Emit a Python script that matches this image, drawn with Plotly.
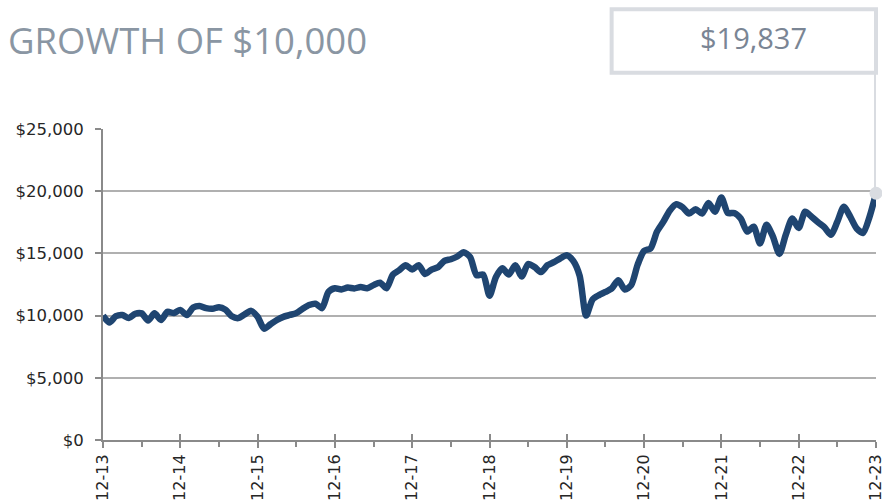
import plotly.graph_objects as go

# ---- data ----
tick_labels = ["12-13", "12-14", "12-15", "12-16", "12-17", "12-18",
               "12-19", "12-20", "12-21", "12-22", "12-23"]
growth_values = [
    10000, 9450, 9950, 10050, 9800, 10150, 10180, 9600, 10180, 9650, 10300, 10200,
    10450, 10050, 10650, 10780, 10600, 10550, 10680, 10480, 9950, 9800, 10100, 10380,
    9900, 8950, 9300, 9650, 9900, 10050, 10200, 10550, 10850, 10950, 10600, 11900,
    12200, 12100, 12250, 12180, 12300, 12200, 12450, 12650, 12200, 13300, 13650, 14050,
    13700, 14050, 13350, 13700, 13880, 14400, 14530, 14750, 15100, 14700, 13250, 13300,
    11600, 13100, 13800, 13300, 14050, 13150, 14150, 13900, 13500, 14050, 14300, 14600,
    14850, 14400, 13200, 10000, 11300, 11650, 11900, 12200, 12850, 12100, 12450, 14100,
    15200, 15400, 16750, 17550, 18450, 18950, 18700, 18200, 18550, 18200, 19050, 18350,
    19500, 18250, 18250, 17800, 16750, 17150, 15800, 17300, 16350, 14950, 16500, 17800,
    17050, 18350, 17950, 17500, 17100, 16500, 17550, 18750, 17950, 17000, 16650, 17950,
    19837,
]
y_ticks = [0, 5000, 10000, 15000, 20000, 25000]
y_tick_labels = ["$0", "$5,000", "$10,000", "$15,000", "$20,000", "$25,000"]
title_text = "GROWTH OF $10,000"
final_label = "$19,837"

months = list(range(len(growth_values)))
major_ticks = list(range(0, len(growth_values), 12))
minor_ticks = [m + 6 for m in major_ticks[:-1]]
x_max = months[-1]
y_max = y_ticks[-1]

LINE = "#1F4571"
CALLOUT = "#D9DCE1"
GRID = "#B0B0B0"
AXIS = "#8A8A8A"
YFONT = dict(family="DejaVu Sans", size=16.5, color="#262626")
XFONT = dict(family="DejaVu Sans", size=16, color="#262626")

fig = go.Figure()
fig.add_trace(go.Scatter(
    x=months, y=growth_values, mode="lines",
    line=dict(color=LINE, width=6.5, shape="spline", smoothing=0.7),
    hoverinfo="skip", showlegend=False,
))
fig.add_trace(go.Scatter(
    x=[months[-1]], y=[growth_values[-1]], mode="markers",
    marker=dict(color=CALLOUT, size=13), cliponaxis=False,
    hoverinfo="skip", showlegend=False,
))
# helper trace for the inside half of the major x ticks
fig.add_trace(go.Scatter(x=[None], y=[None], xaxis="x2", showlegend=False, hoverinfo="skip"))

# callout box + connector
box_bottom = 1.181
box_top = 1.385
fig.add_shape(type="rect", xref="paper", yref="paper",
              x0=0.658, x1=1.0, y0=box_bottom, y1=box_top,
              line=dict(color=CALLOUT, width=4), fillcolor="white", layer="above")
fig.add_shape(type="line", xref="x", yref="paper",
              x0=x_max, x1=x_max, y0=growth_values[-1] / y_max, y1=box_bottom,
              line=dict(color=CALLOUT, width=4), layer="below")
fig.add_annotation(xref="paper", yref="paper", x=0.841, y=1.293,
                   text=final_label, showarrow=False,
                   font=dict(family="Open Sans", size=29, color="#7A8594"),
                   xanchor="center", yanchor="middle")

fig.update_layout(
    width=882, height=504,
    margin=dict(l=103, r=6, t=129, b=64, autoexpand=False),
    paper_bgcolor="white", plot_bgcolor="white",
    title=dict(text=title_text, x=8 / 882, xanchor="left", xref="container",
               y=1 - 41 / 504, yanchor="middle", yref="container",
               font=dict(family="Open Sans", size=36.5, color="#8A96A3")),
    xaxis=dict(
        range=[0, x_max], tickmode="array", tickvals=major_ticks, ticktext=tick_labels,
        tickangle=-90, ticks="outside", ticklen=6, tickwidth=1.5, tickcolor=AXIS,
        showline=True, linecolor=AXIS, linewidth=2, showgrid=False, zeroline=False,
        tickfont=XFONT, ticklabeloverflow="allow", automargin=False,
        minor=dict(tickvals=minor_ticks, ticks="outside", ticklen=5, tickwidth=1.5,
                   tickcolor=AXIS, showgrid=False),
        fixedrange=True,
    ),
    xaxis2=dict(
        range=[0, x_max], overlaying="x", anchor="y", side="bottom",
        tickmode="array", tickvals=major_ticks, ticks="inside", ticklen=6,
        tickwidth=1.5, tickcolor=AXIS, showticklabels=False, showgrid=False,
        showline=False, zeroline=False, automargin=False,
    ),
    yaxis=dict(
        range=[0, y_max], tickmode="array", tickvals=y_ticks, ticktext=y_tick_labels,
        ticks="outside", ticklen=6, tickwidth=1.5,
        tickcolor=AXIS, showline=True, linecolor=AXIS, linewidth=2,
        showgrid=True, gridcolor=GRID, gridwidth=2, zeroline=False,
        tickfont=YFONT, ticklabelstandoff=8, automargin=False,
    ),
)

fig.write_html("out.html", config={"displayModeBar": False},
               post_script="document.body.style.margin='0';document.body.style.overflow='hidden';")
